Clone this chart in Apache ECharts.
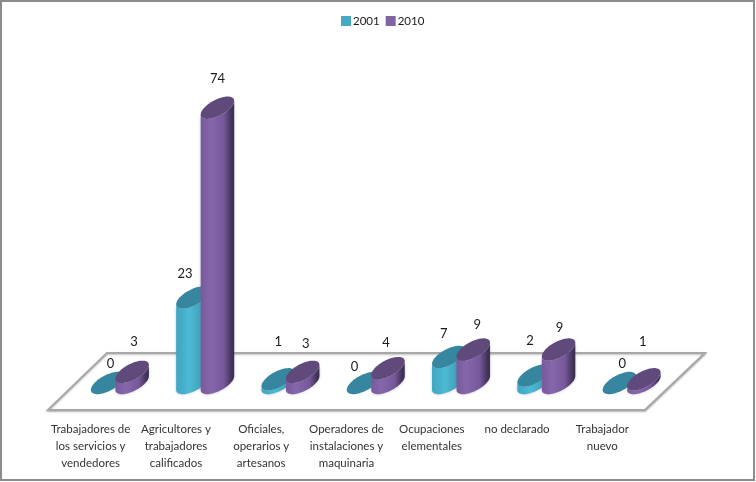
<!DOCTYPE html>
<html>
<head>
<meta charset="utf-8">
<style>
  html, body { margin: 0; padding: 0; background: #fff; }
  #chart { width: 756px; height: 482px; }
</style>
</head>
<body>
<div id="chart"></div>
<script src="https://cdn.jsdelivr.net/npm/echarts@6/dist/echarts.min.js"></script>
<script>
const categories = [
  'Trabajadores de\nlos servicios y\nvendedores',
  'Agricultores y\ntrabajadores\ncalificados',
  'Oficiales,\noperarios y\nartesanos',
  'Operadores de\ninstalaciones y\nmaquinaria',
  'Ocupaciones\nelementales',
  'no declarado',
  'Trabajador\nnuevo'
]
const values2001 = [0, 23, 1, 0, 7, 2, 0]
const values2010 = [3, 74, 3, 4, 9, 9, 1]

// ajuste fino de las etiquetas [dx, dy], separado de los datos
const labelNudge2001 = [[3, 7], [-8, 2], [0, -11], [-9, 10], [-5, 3], [-4, -9], [3, 7]]
const labelNudge2010 = [[2, -4], [0, -3], [3, -2], [-2, 1], [4, 1], [1, 4], [-1, -11]]

const FONT = 'Lato, "Liberation Sans", sans-serif'
const DEPTH_Y = -28 // el piso esta dibujado en perspectiva
const MAJOR = 18.5
const MINOR = 8
const ANGLE = (28 * Math.PI) / 180

const ellipsePoints = (cx, cy) => {
  const pts = []
  for (let i = 0; i < 72; i++) {
    const t = (i / 72) * Math.PI * 2
    pts.push([
      cx + MAJOR * Math.cos(t) * Math.cos(ANGLE) + MINOR * Math.sin(t) * Math.sin(ANGLE),
      cy - MAJOR * Math.cos(t) * Math.sin(ANGLE) + MINOR * Math.sin(t) * Math.cos(ANGLE)
    ])
  }
  return pts
}

// arco inferior de la elipse, de izquierda a derecha
const lowerArc = (pts) => {
  let left = 0
  let right = 0
  pts.forEach((p, i) => {
    if (p[0] < pts[left][0]) left = i
    if (p[0] > pts[right][0]) right = i
  })
  const arc = []
  for (let i = right; ; i = (i + 1) % pts.length) {
    arc.push(pts[i])
    if (i === left) break
  }
  return arc.reverse()
}

const cylinder = (dx, nudges, body, topColor) => (params, api) => {
  const i = api.value(0)
  const val = api.value(1)
  const base = api.coord([i, 0])
  const top = api.coord([i, val])
  const cx = base[0] + dx
  const baseY = base[1] + DEPTH_Y
  const topY = top[1] + DEPTH_Y
  const baseArc = lowerArc(ellipsePoints(cx, baseY))
  const topPts = ellipsePoints(cx, topY)
  const topArc = lowerArc(topPts)
  const side = baseArc.concat(topArc.slice().reverse())
  return {
    type: 'group',
    children: [
      {
        type: 'polygon',
        shape: { points: side },
        style: {
          fill: new echarts.graphic.LinearGradient(0, 0, 1, 0, body),
          shadowBlur: 3,
          shadowColor: 'rgba(120,120,140,0.45)'
        }
      },
      { type: 'polygon', shape: { points: topPts }, style: { fill: topColor } },
      {
        type: 'text',
        style: {
          text: String(val),
          x: cx + nudges[i][0],
          y: topY - 26 + nudges[i][1],
          align: 'center',
          verticalAlign: 'middle',
          font: '13px ' + FONT,
          fill: '#1a1a1a'
        }
      }
    ]
  }
}

const chart = echarts.init(document.getElementById('chart'), null, { renderer: 'canvas' })

chart.setOption({
  animation: false,
  backgroundColor: '#fff',
  legend: {
    top: 10,
    left: 336,
    itemWidth: 10,
    itemHeight: 10,
    itemGap: 6,
    icon: 'rect',
    textStyle: { fontFamily: FONT, fontSize: 11.5, color: '#1a1a1a', padding: [0, 0, 0, -3] },
    data: ['2001', '2010']
  },
  grid: { left: 48, right: 111, top: 39, bottom: 71 },
  xAxis: {
    type: 'category',
    data: categories,
    axisLine: { show: false },
    axisTick: { show: false },
    axisLabel: {
      interval: 0,
      margin: 10,
      fontFamily: FONT,
      fontSize: 11.5,
      lineHeight: 17,
      color: '#333',
      verticalAlign: 'top'
    }
  },
  yAxis: { type: 'value', min: 0, max: 100, show: false },
  graphic: [
    {
      type: 'rect',
      z: 0,
      shape: { x: 1, y: 1, width: 753, height: 479 },
      style: { fill: '#fff', stroke: '#8c8c8c', lineWidth: 2 }
    },
    {
      type: 'polygon',
      z: 1,
      shape: { points: [[48, 410], [645, 410], [705, 353], [107, 353]] },
      style: {
        fill: '#fff',
        stroke: '#a8a8a8',
        lineWidth: 2,
        shadowBlur: 2,
        shadowOffsetY: 1,
        shadowColor: 'rgba(0,0,0,0.25)'
      }
    }
  ],
  series: [
    {
      name: '2001',
      type: 'custom',
      itemStyle: { color: '#46AAC5' },
      encode: { x: 0, y: 1 },
      data: values2001.map((v, i) => [i, v]),
      renderItem: cylinder(17, labelNudge2001, [
        { offset: 0, color: '#3ea6c2' },
        { offset: 0.4, color: '#4db9d4' },
        { offset: 1, color: '#3490aa' }
      ], '#35869E')
    },
    {
      name: '2010',
      type: 'custom',
      itemStyle: { color: '#8064A2' },
      encode: { x: 0, y: 1 },
      data: values2010.map((v, i) => [i, v]),
      renderItem: cylinder(41.5, labelNudge2010, [
        { offset: 0, color: '#78599c' },
        { offset: 0.3, color: '#8767ab' },
        { offset: 0.7, color: '#75579a' },
        { offset: 0.92, color: '#423358' },
        { offset: 1, color: '#3a2d4f' }
      ], '#5F4A7B')
    }
  ]
})

window.addEventListener('resize', () => chart.resize())
</script>
</body>
</html>
